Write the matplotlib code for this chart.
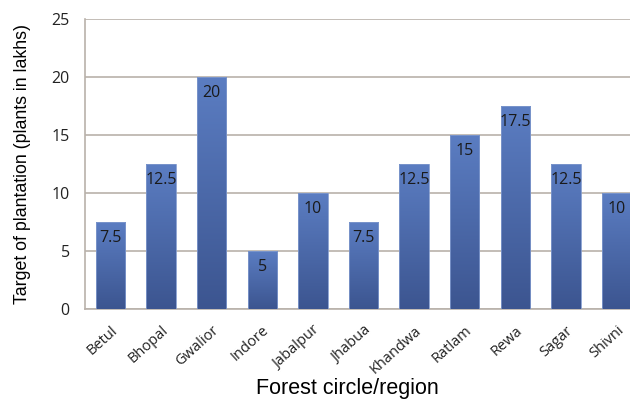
import matplotlib.pyplot as plt
import numpy as np
from matplotlib.colors import LinearSegmentedColormap

regions = ['Betul', 'Bhopal', 'Gwalior', 'Indore', 'Jabalpur', 'Jhabua',
           'Khandwa', 'Ratlam', 'Rewa', 'Sagar', 'Shivni']
targets = [7.5, 12.5, 20, 5, 10, 7.5, 12.5, 15, 17.5, 12.5, 10]
y_ticks = [0, 5, 10, 15, 20, 25]

fig = plt.figure(figsize=(6.3, 4.01), dpi=100)
ax = fig.add_axes([85 / 630, 92 / 401, 557 / 630, 290 / 401])

x = np.arange(len(regions))
bars = ax.bar(x, targets, width=0.58, color='#4f6fb0', zorder=2)

# vertical gradient inside each bar (lighter on top, darker at the base)
grad_cmap = LinearSegmentedColormap.from_list('bar', ['#3c5590', '#5b7dc2'])
grad = np.linspace(0, 1, 256).reshape(-1, 1)
for b in bars:
    x0, y0 = b.get_x(), b.get_y()
    w, h = b.get_width(), b.get_height()
    im = ax.imshow(grad, cmap=grad_cmap, origin='lower', aspect='auto',
                   extent=[x0, x0 + w, y0, y0 + h], zorder=3)
    im.set_clip_path(b)
    b.set_facecolor('none')
    b.set_edgecolor('#7f98cc')
    b.set_linewidth(0.6)
    b.set_zorder(4)

for xi, v in zip(x, targets):
    ax.annotate(f'{v:g}', (xi, v), xytext=(0, -11.5), textcoords='offset points',
                ha='center', va='center', fontsize=11.5, color='#1a1a1a',
                family='Open Sans', zorder=5)

ax.set_xlim(-0.5, len(regions) - 0.5)
ax.set_ylim(0, 25)
ax.set_yticks(y_ticks)
ax.yaxis.grid(True, color='#b9b1aa', linewidth=1.2, zorder=0)
ax.set_axisbelow(True)

for side in ['top', 'right']:
    ax.spines[side].set_visible(False)
ax.spines['left'].set_color('#b9b1aa')
ax.spines['bottom'].set_color('#b9b1aa')
ax.spines['left'].set_linewidth(1.2)
ax.spines['bottom'].set_linewidth(1.2)

ax.tick_params(axis='both', length=0, colors='#222222')
ax.tick_params(axis='y', pad=11, labelsize=11.5)
ax.tick_params(axis='x', pad=10)
ax.set_xticks(x)
ax.set_xticklabels(regions, rotation=42, ha='right', rotation_mode='anchor',
                   family='Open Sans', fontsize=10.5)
for lbl in ax.get_yticklabels():
    lbl.set_family('Open Sans')

ax.set_ylabel('Target of plantation (plants in lakhs)', family='Liberation Sans',
              fontsize=12.8, color='black', labelpad=15)
ax.set_xlabel('Forest circle/region', family='Liberation Sans', fontsize=15.5,
              color='black')
ax.xaxis.set_label_coords(262 / 557, -0.238)

fig.savefig('out.png', dpi=100)
